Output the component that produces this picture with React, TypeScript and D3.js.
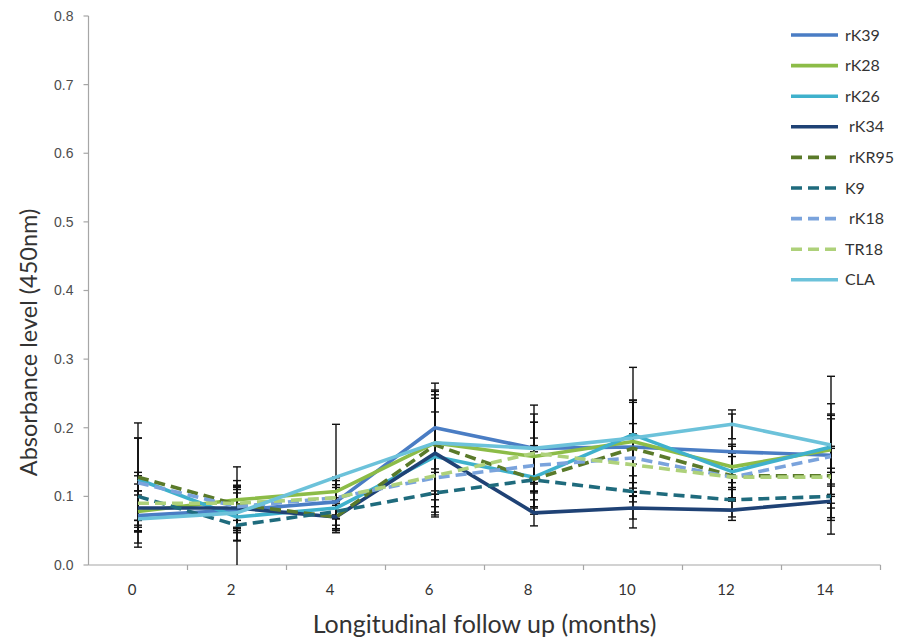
import * as d3 from 'd3';

const months = ['0', '2', '4', '6', '8', '10', '12', '14'];
const yTicks = [0, 0.1, 0.2, 0.3, 0.4, 0.5, 0.6, 0.7, 0.8];

const seriesNames = ['rK39', 'rK28', 'rK26', 'rK34', 'rKR95', 'K9', 'rK18', 'TR18', 'CLA'];
const legendLabels = ['rK39', 'rK28', 'rK26', ' rK34', ' rKR95', 'K9', ' rK18', 'TR18', 'CLA'];

const rK39 = [0.072, 0.08, 0.092, 0.2, 0.17, 0.172, 0.165, 0.16];
const rK28 = [0.078, 0.095, 0.107, 0.178, 0.158, 0.18, 0.143, 0.168];
const rK26 = [0.125, 0.07, 0.083, 0.158, 0.128, 0.19, 0.136, 0.172];
const rK34 = [0.083, 0.083, 0.07, 0.163, 0.076, 0.083, 0.08, 0.093];
const rKR95 = [0.128, 0.088, 0.07, 0.175, 0.125, 0.17, 0.13, 0.13];
const K9 = [0.1, 0.058, 0.078, 0.105, 0.124, 0.107, 0.095, 0.1];
const rK18 = [0.12, 0.085, 0.098, 0.127, 0.145, 0.156, 0.128, 0.158];
const TR18 = [0.09, 0.09, 0.098, 0.13, 0.163, 0.146, 0.128, 0.128];
const CLA = [0.067, 0.076, 0.128, 0.178, 0.17, 0.185, 0.205, 0.175];

// standard errors (symmetric)
const rK39Err = [0.046, 0.03, 0.025, 0.065, 0.063, 0.065, 0.055, 0.06];
const rK28Err = [0.03, 0.048, 0.02, 0.07, 0.05, 0.06, 0.03, 0.05];
const rK26Err = [0.06, 0.035, 0.03, 0.085, 0.045, 0.098, 0.04, 0.103];
const rK34Err = [0.025, 0.03, 0.023, 0.06, 0.019, 0.029, 0.015, 0.048];
const rKR95Err = [0.079, 0.035, 0.02, 0.08, 0.04, 0.07, 0.035, 0.04];
const K9Err = [0.035, 0.058, 0.02, 0.035, 0.05, 0.04, 0.025, 0.035];
const rK18Err = [0.065, 0.03, 0.025, 0.05, 0.04, 0.05, 0.03, 0.055];
const TR18Err = [0.04, 0.025, 0.03, 0.045, 0.045, 0.045, 0.035, 0.045];
const CLAErr = [0.035, 0.04, 0.077, 0.075, 0.05, 0.055, 0.021, 0.06];

const values = [rK39, rK28, rK26, rK34, rKR95, K9, rK18, TR18, CLA];
const errors = [rK39Err, rK28Err, rK26Err, rK34Err, rKR95Err, K9Err, rK18Err, TR18Err, CLAErr];
const colors = ['#4a7dc4', '#8cbc47', '#3fb1cc', '#1f4275', '#5a7a2a', '#1f6b7d', '#7aa3dc', '#aed17a', '#6cc2da'];
const dashed = [false, false, false, false, true, true, true, true, false];

const width = 901;
const height = 641;
const margin = { top: 16, right: 20, bottom: 76, left: 88.5 };
const plotRight = 880.5;

export default function App() {
  const x = d3.scaleBand<string>().domain(months).range([margin.left, plotRight]).padding(0);
  const y = d3.scaleLinear().domain([0, 0.8]).range([height - margin.bottom, margin.top]);
  const cx = (m: string) => (x(m) ?? 0) + x.bandwidth() / 2;
  const line = d3
    .line<number>()
    .x((_, i) => cx(months[i]))
    .y((d) => y(d));

  const y0 = y(0);
  const axisColor = '#a6a6a6';

  return (
    <svg width={width} height={height} style={{ position: 'absolute', left: 0, top: 0, background: '#fff' }}>
      {/* y axis */}
      <line x1={margin.left} x2={margin.left} y1={y(0.8)} y2={y0} stroke={axisColor} strokeWidth={1.2} />
      {yTicks.map((t) => (
        <g key={t}>
          <line x1={margin.left - 5} x2={margin.left} y1={y(t)} y2={y(t)} stroke={axisColor} strokeWidth={1.2} />
          <text
            x={margin.left - 15}
            y={y(t)}
            dy="0.35em"
            textAnchor="end"
            fontFamily="Liberation Sans, Arial, sans-serif"
            fontSize={14}
            fill="#4d4d4d"
          >
            {t.toFixed(1)}
          </text>
        </g>
      ))}
      {/* x axis */}
      <line x1={margin.left} x2={plotRight} y1={y0} y2={y0} stroke={axisColor} strokeWidth={1.2} />
      {months.map((m) => (
        <line key={m} x1={(x(m) ?? 0) + x.bandwidth()} x2={(x(m) ?? 0) + x.bandwidth()} y1={y0} y2={y0 + 5} stroke={axisColor} strokeWidth={1.2} />
      ))}
      {months.map((m) => (
        <text
          key={m}
          x={cx(m) - 6}
          y={y0 + 30}
          textAnchor="middle"
          fontFamily="Lato, sans-serif"
          fontSize={15}
          fill="#333"
        >
          {m}
        </text>
      ))}
      <text
        x={(margin.left + plotRight) / 2}
        y={y0 + 68}
        textAnchor="middle"
        fontFamily="Lato, sans-serif"
        fontSize={25}
        fill="#333"
      >
        Longitudinal follow up (months)
      </text>
      <text
        transform={`translate(37,${(y(0.8) + y0) / 2 + 52}) rotate(-90)`}
        textAnchor="middle"
        fontFamily="Lato, sans-serif"
        fontSize={23.5}
        fill="#333"
      >
        Absorbance level (450nm)
      </text>

      {/* error bars */}
      {values.map((vals, si) => (
        <g key={`err-${si}`} stroke="#111" strokeWidth={1.4}>
          {vals.map((v, i) => {
            const e = errors[si][i];
            const xc = cx(months[i]);
            const lo = Math.max(0, v - e);
            const hi = v + e;
            return (
              <g key={i}>
                <line x1={xc} x2={xc} y1={y(hi)} y2={y(lo)} />
                <line x1={xc - 4} x2={xc + 4} y1={y(hi)} y2={y(hi)} />
                {lo > 0 && <line x1={xc - 4} x2={xc + 4} y1={y(lo)} y2={y(lo)} />}
              </g>
            );
          })}
        </g>
      ))}

      {/* series lines */}
      {values.map((vals, si) => (
        <path
          key={seriesNames[si]}
          d={line(vals) ?? ''}
          fill="none"
          stroke={colors[si]}
          strokeWidth={3.6}
          strokeDasharray={dashed[si] ? '11,6' : undefined}
          strokeLinejoin="round"
        />
      ))}

      {/* legend */}
      {seriesNames.map((name, i) => {
        const ly = 35 + i * 30.6;
        return (
          <g key={`lg-${name}`}>
            <line
              x1={791}
              x2={838}
              y1={ly}
              y2={ly}
              stroke={colors[i]}
              strokeWidth={3.6}
              strokeDasharray={dashed[i] ? '11,6' : undefined}
            />
            <text
              x={845}
              y={ly}
              dy="0.35em"
              fontFamily="Lato, sans-serif"
              fontSize={16}
              fill="#333"
              style={{ whiteSpace: 'pre' }}
            >
              {legendLabels[i]}
            </text>
          </g>
        );
      })}
    </svg>
  );
}
